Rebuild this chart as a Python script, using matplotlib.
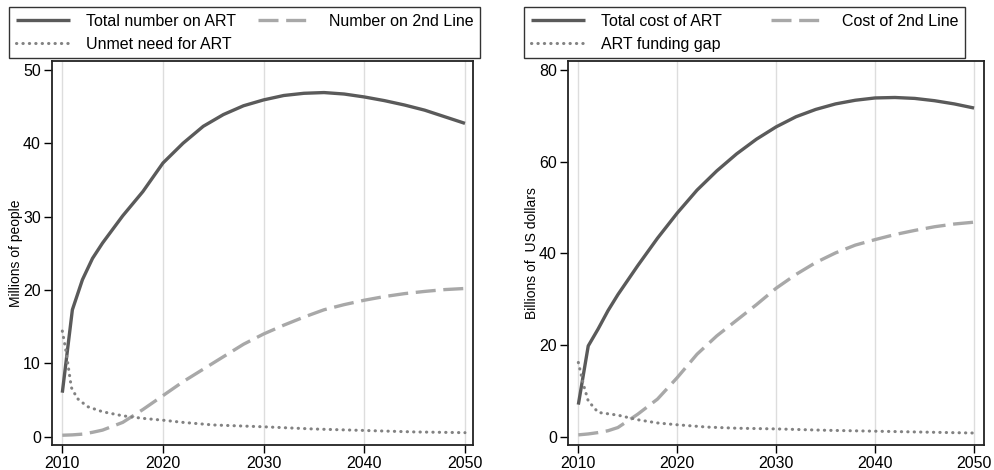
import numpy as np
import matplotlib.pyplot as plt

plt.rcParams['font.family'] = ['Liberation Sans', 'DejaVu Sans']

# left panel: millions of people
years = [2010, 2011, 2012, 2013, 2014, 2016, 2018, 2020, 2022, 2024, 2026, 2028,
         2030, 2032, 2034, 2036, 2038, 2040, 2042, 2044, 2046, 2048, 2050]
total_art = [6.0, 17.3, 21.4, 24.3, 26.4, 30.1, 33.4, 37.3, 40.0, 42.3, 43.9, 45.1,
             45.9, 46.5, 46.8, 46.9, 46.7, 46.3, 45.8, 45.2, 44.5, 43.6, 42.7]
second_line = [0.2, 0.25, 0.35, 0.6, 0.9, 1.95, 3.7, 5.6, 7.5, 9.2, 10.9, 12.6,
               14.0, 15.2, 16.3, 17.3, 18.0, 18.6, 19.1, 19.5, 19.8, 20.05, 20.2]
unmet_years = [2010, 2010.3, 2010.6, 2010.9, 2011.5, 2012.5, 2014, 2016, 2018, 2020,
               2022, 2025, 2030, 2035, 2040, 2045, 2050]
unmet_need = [14.4, 12.2, 9.5, 6.7, 5.2, 4.1, 3.4, 2.85, 2.5, 2.25,
              1.95, 1.6, 1.35, 1.05, 0.85, 0.65, 0.55]

# right panel: billions of US dollars
total_cost = [7.0, 19.8, 23.5, 27.5, 31.0, 37.3, 43.3, 48.8, 53.8, 58.0, 61.7, 64.9,
              67.6, 69.8, 71.4, 72.6, 73.4, 73.9, 74.0, 73.8, 73.3, 72.6, 71.7]
cost_2nd = [0.4, 0.6, 0.9, 1.3, 2.0, 4.9, 8.2, 12.9, 18.0, 22.0, 25.4, 28.8,
            32.4, 35.4, 38.0, 40.1, 41.8, 43.0, 44.1, 45.0, 45.8, 46.4, 46.8]
gap_years = [2010, 2010.5, 2011, 2012, 2013, 2014, 2016, 2018, 2020, 2023, 2026,
             2030, 2035, 2040, 2045, 2050]
funding_gap = [16.2, 11.5, 7.8, 5.3, 5.0, 4.7, 3.7, 3.0, 2.6, 2.1, 1.85,
               1.7, 1.4, 1.2, 1.0, 0.8]

c_solid = '#5a5a5a'
c_dash = '#a8a8a8'
c_dot = '#828282'

fig = plt.figure(figsize=(9.95, 4.7), dpi=100)
ax1 = fig.add_axes([0.0523, 0.0532, 0.4231, 0.817])
ax2 = fig.add_axes([0.5709, 0.0532, 0.4180, 0.817])


def draw(ax, y_tot, y_2nd, xg, y_gap, labels, ylabel, yticks, ylim, xlim, corner, colsp):
    l1, = ax.plot(years, y_tot, color=c_solid, lw=2.4, solid_capstyle='butt')
    l2, = ax.plot(years, y_2nd, color=c_dash, lw=2.4, dashes=(6, 2.3), dash_capstyle='butt')
    l3, = ax.plot(xg, y_gap, color=c_dot, lw=2.2, dashes=(0.1, 2.0), dash_capstyle='round')
    ax.set_xlim(*xlim)
    ax.set_ylim(*ylim)
    ax.set_xticks([2010, 2020, 2030, 2040, 2050])
    ax.set_yticks(yticks)
    ax.grid(axis='x', color='#dddddd', lw=1)
    ax.set_axisbelow(True)
    ax.tick_params(axis='both', direction='out', length=6, width=1, labelsize=11.5, pad=2)
    for s in ax.spines.values():
        s.set_linewidth(1.3)
        s.set_color('#222222')
    ax.set_ylabel(ylabel, fontsize=10, labelpad=0)
    # legend is filled column by column, so order gives rows: solid, dashed / dotted
    fig.legend([l1, l3, l2], [labels[0], labels[2], labels[1]], loc='upper left',
               bbox_to_anchor=corner, bbox_transform=fig.transFigure, ncol=2,
               fontsize=11.5, frameon=True, fancybox=False, edgecolor='black',
               handlelength=3.4, handletextpad=1.0, borderaxespad=0,
               borderpad=0.42, labelspacing=0.5, columnspacing=colsp)


draw(ax1, total_art, second_line, unmet_years, unmet_need,
     ['Total number on ART', 'Number on 2nd Line', 'Unmet need for ART'],
     'Millions of people', [0, 10, 20, 30, 40, 50], (-1.13, 51.2), (2008.98, 2050.8),
     (0.009, 0.985), 1.4)
draw(ax2, total_cost, cost_2nd, gap_years, funding_gap,
     ['Total cost of ART', 'Cost of 2nd Line', 'ART funding gap'],
     'Billions of  US dollars', [0, 20, 40, 60, 80], (-1.81, 81.96), (2008.96, 2051.0),
     (0.5266, 0.985), 3.1)

fig.savefig('out.png', dpi=100)
